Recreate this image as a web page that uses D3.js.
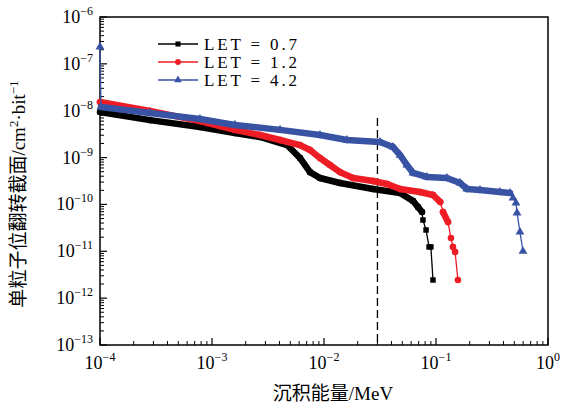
<!DOCTYPE html>
<html>
<head>
<meta charset="utf-8">
<script src="https://cdn.jsdelivr.net/npm/d3@7"></script>
<style>
body { margin: 0; background: #fff; }
text { font-family: "Liberation Serif", "DejaVu Serif", serif; fill: #000; }
.cjk { font-family: "Noto Sans CJK SC", sans-serif; }
</style>
</head>
<body>
<svg id="chart" width="564" height="404"></svg>
<script>
// axis domains and decade ticks
var xDomain = [1e-4, 1];
var yDomain = [1e-13, 1e-6];
var xTickExp = [-4, -3, -2, -1, 0];
var yTickExp = [-13, -12, -11, -10, -9, -8, -7, -6];

var seriesNames = ["LET = 0.7", "LET = 1.2", "LET = 4.2"];
var seriesColors = ["#000000", "#ee1c25", "#3953a4"];

// LET = 0.7
var let07E = [1.0e-4, 2.79e-4, 7.8e-4, 1.6e-3, 2.68e-3, 4.68e-3, 6.1e-3, 7.5e-3, 9.2e-3, 1.39e-2,
              2.74e-2, 4.78e-2, 6.24e-2, 6.9e-2, 7.5e-2, 7.65e-2, 8.15e-2, 8.67e-2, 9.0e-2, 9.4e-2];
var let07S = [9.4e-9, 6.3e-9, 4.5e-9, 3.35e-9, 2.75e-9, 1.85e-9, 9.8e-10, 4.9e-10, 3.66e-10, 2.87e-10,
              2.14e-10, 1.75e-10, 1.18e-10, 8.8e-11, 6.9e-11, 4.65e-11, 2.85e-11, 1.24e-11, 1.24e-11, 2.44e-12];

// LET = 1.2
var let12E = [1.0e-4, 2.79e-4, 7.8e-4, 1.6e-3, 2.68e-3, 4.05e-3, 6.1e-3, 7.5e-3, 9.2e-3, 1.13e-2,
              1.39e-2, 1.82e-2, 2.74e-2, 3.66e-2, 4.78e-2, 7.2e-2, 9.4e-2, 0.109, 0.1156, 0.128,
              0.136, 0.1417, 0.148, 0.157];
var let12S = [1.53e-8, 9.9e-9, 6.0e-9, 3.9e-9, 3.03e-9, 2.37e-9, 1.85e-9, 1.45e-9, 9.8e-10, 6.95e-10,
              4.9e-10, 3.66e-10, 3.16e-10, 2.73e-10, 2.14e-10, 1.84e-10, 1.59e-10, 1.13e-10, 6.9e-11, 4.2e-11,
              1.92e-11, 1.24e-11, 9.7e-12, 2.44e-12];

// LET = 4.2
var let42E = [1.0e-4, 1.02e-4, 2.79e-4, 7.8e-4, 1.6e-3, 4.05e-3, 9.2e-3, 1.6e-2, 3.16e-2, 4.13e-2,
              4.78e-2, 5.5e-2, 6.24e-2, 8.3e-2, 0.125, 0.164, 0.189, 0.247, 0.372, 0.458,
              0.487, 0.518, 0.529, 0.562, 0.598];
var let42S = [2.3e-7, 1.2e-8, 8.9e-9, 6.65e-9, 4.96e-9, 3.9e-9, 3.03e-9, 2.37e-9, 2.15e-9, 1.68e-9,
              1.13e-9, 6.95e-10, 4.69e-10, 3.85e-10, 3.66e-10, 2.87e-10, 2.14e-10, 2.03e-10, 1.84e-10, 1.75e-10,
              1.37e-10, 1.07e-10, 6.6e-11, 2.58e-11, 1.0e-11];

// vertical dashed marker
var cutEnergy = 0.03;
var cutTop = 7e-9;

var plotLeft = 100, plotRight = 548, plotTop = 17, plotBottom = 345;

var svg = d3.select("#chart");

var x = d3.scaleLog().domain(xDomain).range([plotLeft, plotRight]);
var y = d3.scaleLog().domain(yDomain).range([plotBottom, plotTop]);

function minorTicks(d0, d1) {
	var t = [];
	for (var e = Math.round(Math.log10(d0)); e < Math.round(Math.log10(d1)); e++)
		for (var k = 2; k <= 9; k++) t.push(k * Math.pow(10, e));
	return t;
}

// frame
svg.append("rect")
.attr("x", plotLeft)
.attr("y", plotTop)
.attr("width", plotRight-plotLeft)
.attr("height", plotBottom-plotTop)
.attr("fill", "none")
.attr("stroke", "#000")
.attr("stroke-width", 1.5);

// inside ticks on bottom and left
var gx = svg.append("g");
gx.selectAll("line.maj")
.data(xTickExp.map(function(e) { return Math.pow(10, e); }))
.enter().append("line")
.attr("x1", function(d) { return x(d); })
.attr("x2", function(d) { return x(d); })
.attr("y1", plotBottom)
.attr("y2", plotBottom-7)
.attr("stroke", "#000")
.attr("stroke-width", 1.2);
gx.selectAll("line.min")
.data(minorTicks(xDomain[0], xDomain[1]))
.enter().append("line")
.attr("x1", function(d) { return x(d); })
.attr("x2", function(d) { return x(d); })
.attr("y1", plotBottom)
.attr("y2", plotBottom-4)
.attr("stroke", "#000")
.attr("stroke-width", 1);

var gy = svg.append("g");
gy.selectAll("line.maj")
.data(yTickExp.map(function(e) { return Math.pow(10, e); }))
.enter().append("line")
.attr("x1", plotLeft)
.attr("x2", plotLeft+7)
.attr("y1", function(d) { return y(d); })
.attr("y2", function(d) { return y(d); })
.attr("stroke", "#000")
.attr("stroke-width", 1.2);
gy.selectAll("line.min")
.data(minorTicks(yDomain[0], yDomain[1]))
.enter().append("line")
.attr("x1", plotLeft)
.attr("x2", plotLeft+4)
.attr("y1", function(d) { return y(d); })
.attr("y2", function(d) { return y(d); })
.attr("stroke", "#000")
.attr("stroke-width", 1);

// tick labels
function powLabel(sel, e) {
	sel.append("tspan").text("10");
	sel.append("tspan")
	.attr("dy", -8)
	.attr("font-size", 12)
	.text(String(e).replace("-", "\u2212"));
}

xTickExp.forEach(function(e) {
	var t = svg.append("text")
	.attr("x", x(Math.pow(10, e)))
	.attr("y", plotBottom+24)
	.attr("font-size", 18)
	.attr("text-anchor", "middle");
	powLabel(t, e);
});

yTickExp.forEach(function(e) {
	var t = svg.append("text")
	.attr("x", plotLeft-7)
	.attr("y", y(Math.pow(10, e)) + 6)
	.attr("font-size", 18)
	.attr("text-anchor", "end");
	powLabel(t, e);
});

// axis titles
var xt = svg.append("text")
.attr("x", 333)
.attr("y", 400)
.attr("font-size", 19)
.attr("text-anchor", "middle");
xt.append("tspan").attr("class", "cjk").text("沉积能量");
xt.append("tspan").text("/MeV");

var yt = svg.append("text")
.attr("transform", "translate(25,194) rotate(-90)")
.attr("font-size", 19)
.attr("text-anchor", "middle");
yt.append("tspan").attr("class", "cjk").text("单粒子位翻转截面");
yt.append("tspan").text("/cm");
yt.append("tspan").attr("dy", -7).attr("font-size", 13).text("2");
yt.append("tspan").attr("dy", 7).text("\u00b7bit");
yt.append("tspan").attr("dy", -7).attr("font-size", 13).text("\u22121");

// dashed marker line
svg.append("line")
.attr("x1", x(cutEnergy))
.attr("x2", x(cutEnergy))
.attr("y1", y(cutTop))
.attr("y2", plotBottom)
.attr("stroke", "#000")
.attr("stroke-width", 1.3)
.attr("stroke-dasharray", "8,4");

// series
var series = [
	{name: seriesNames[0], color: seriesColors[0], shape: d3.symbolSquare, size: 30, e: let07E, s: let07S},
	{name: seriesNames[1], color: seriesColors[1], shape: d3.symbolCircle, size: 34, e: let12E, s: let12S},
	{name: seriesNames[2], color: seriesColors[2], shape: d3.symbolTriangle, size: 34, e: let42E, s: let42S}
];

var line = d3.line()
.x(function(d) { return x(d[0]); })
.y(function(d) { return y(d[1]); });

series.forEach(function(sr) {
	var pts = sr.e.map(function(v, i) { return [v, sr.s[i]]; });
	var g = svg.append("g");
	// dense-marker band where points are packed along energy
	for (var i = 0; i < pts.length-1; i++) {
		var dx = x(pts[i+1][0]) - x(pts[i][0]);
		if (dx < 4) continue;
		g.append("path")
		.attr("d", line([pts[i], pts[i+1]]))
		.attr("fill", "none")
		.attr("stroke", sr.color)
		.attr("stroke-width", 6.5)
		.attr("stroke-linecap", "round");
	}
	g.append("path")
	.attr("d", line(pts))
	.attr("fill", "none")
	.attr("stroke", sr.color)
	.attr("stroke-width", 1.3);
	g.selectAll("path.pt")
	.data(pts)
	.enter().append("path")
	.attr("d", d3.symbol().type(sr.shape).size(sr.size))
	.attr("transform", function(d) { return "translate("+[x(d[0]), y(d[1])]+")"; })
	.attr("fill", sr.color);
});

// legend
var gLegend = svg.append("g");
series.forEach(function(sr, i) {
	var ly = 44 + i*18;
	gLegend.append("line")
	.attr("x1", 158)
	.attr("x2", 198)
	.attr("y1", ly)
	.attr("y2", ly)
	.attr("stroke", sr.color)
	.attr("stroke-width", 1.5);
	gLegend.append("path")
	.attr("d", d3.symbol().type(sr.shape).size(26))
	.attr("transform", "translate("+[178, ly]+")")
	.attr("fill", sr.color);
	gLegend.append("text")
	.attr("x", 204)
	.attr("y", ly+6)
	.attr("font-size", 17)
	.attr("textLength", 93)
	.text(sr.name);
});
</script>
</body>
</html>
